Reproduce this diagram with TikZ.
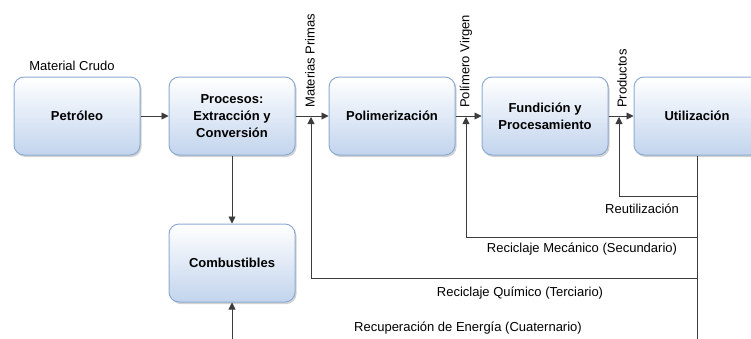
\documentclass[tikz,border=0pt]{standalone}
\usepackage{fontspec}
\setmainfont{Liberation Sans}
\usetikzlibrary{shadows,arrows.meta}

\definecolor{bordeazul}{RGB}{141,171,210}
\definecolor{fondoazul}{RGB}{194,212,237}
\definecolor{linea}{RGB}{60,60,60}

\tikzset{
  etapa/.style={rectangle, rounded corners=10pt, draw=bordeazul, line width=1pt,
    top color=white, bottom color=fondoazul,
    drop shadow={shadow xshift=1.5pt, shadow yshift=-2pt, fill=black!35, opacity=0.5},
    minimum width=126pt, minimum height=78pt, align=center,
    font=\fontsize{13}{17}\selectfont\bfseries},
  rotulo/.style={font=\fontsize{13}{15}\selectfont, inner sep=0pt},
  flujo/.style={draw=linea, line width=0.9pt, -{Triangle[length=7pt,width=7pt]}},
  retorno/.style={draw=linea, line width=0.9pt}
}

\begin{document}
\begin{tikzpicture}[x=1pt,y=-1pt]
        \useasboundingbox (0,0) rectangle (751,338);
        \clip (0,0) rectangle (751,338);

        % Etapas del ciclo
        \node[etapa] (petroleo) at (77,116) {Petróleo};
        \node[etapa] (procesos) at (232,116) {Procesos:\\Extracción y\\Conversión};
        \node[etapa] (polimerizacion) at (392,116) {Polimerización};
        \node[etapa] (fundicion) at (545,116) {Fundición y\\Procesamiento};
        \node[etapa] (utilizacion) at (697,116) {Utilización};
        \node[etapa] (combustibles) at (232,263) {Combustibles};

        % Puntos de entrada de los retornos
        \coordinate (jprimas) at (311,117);
        \coordinate (jvirgen) at (466,117);
        \coordinate (jproductos) at (619,117);
        \coordinate (reuso) at (697,196);
        \coordinate (mecanico) at (697,237);
        \coordinate (quimico) at (697,278);
        \coordinate (fondo) at (697,345);
        \coordinate (energia) at (232,345);

        % Flujo principal
        \draw[flujo] (petroleo) -- (procesos);
        \draw[flujo] (procesos) -- (polimerizacion);
        \draw[flujo] (polimerizacion) -- (fundicion);
        \draw[flujo] (fundicion) -- (utilizacion);
        \draw[flujo] (procesos) -- (combustibles);

        % Retornos desde la utilización
        \draw[retorno] (utilizacion.south) -- (fondo);
        \draw[flujo] (reuso) -| (jproductos);
        \draw[flujo] (mecanico) -| (jvirgen);
        \draw[flujo] (quimico) -| (jprimas);
        \draw[flujo] (energia) -- (combustibles);

        % Rotulos
        \node[rotulo] (crudo) at (72,66) {Material Crudo};
        \node[rotulo, rotate=90, anchor=west] (primas) at (310,108) {Materias Primas};
        \node[rotulo, rotate=90, anchor=west] (virgen) at (466,108) {Polímero Virgen};
        \node[rotulo, rotate=90, anchor=west] (productos) at (622,108) {Productos};
        \node[rotulo] (lreuso) at (642,209) {Reutilización};
        \node[rotulo] (lmecanico) at (582,249) {Reciclaje Mecánico (Secundario)};
        \node[rotulo] (lquimico) at (520,293) {Reciclaje Químico (Terciario)};
        \node[rotulo] (lenergia) at (468,328) {Recuperación de Energía (Cuaternario)};
\end{tikzpicture}
\end{document}
